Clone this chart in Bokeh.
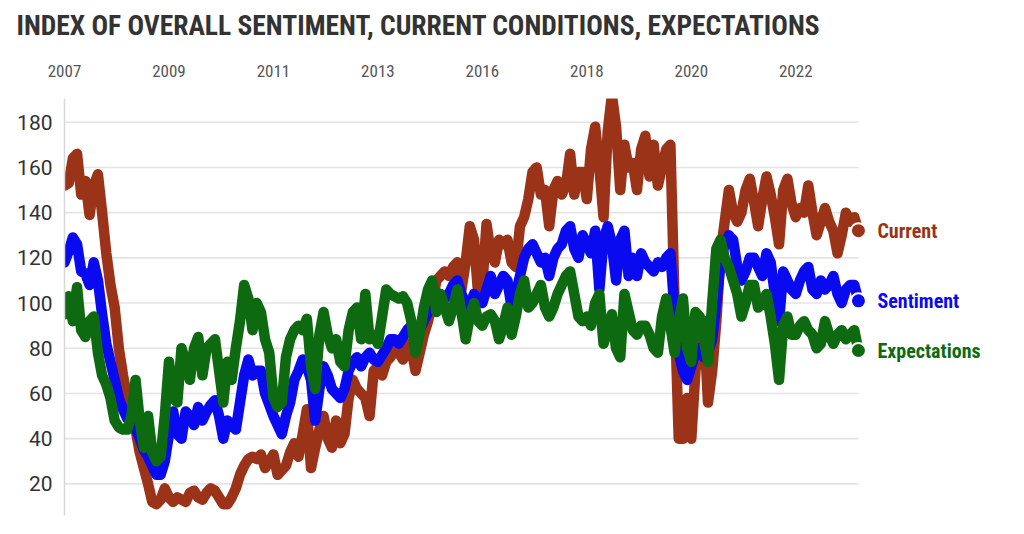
from bokeh.plotting import figure
from bokeh.layouts import column
from bokeh.models import Range1d, FixedTicker, ColumnDataSource
from bokeh.core.properties import value
from bokeh.embed import file_html
from bokeh.resources import INLINE

# ---- data (index of observations; year labels placed at fixed index ticks) ----
year_labels = ["2007", "2009", "2011", "2013", "2016", "2018", "2020", "2022"]
year_ticks = [0, 25, 50, 75, 100, 125, 150, 175]

current = [152, 153, 164, 166, 148, 154, 139, 152, 157, 140, 122, 108, 98, 80, 68, 58, 52, 44, 34, 27,
           20, 12, 11, 13, 18, 14, 12, 14, 13, 12, 16, 17, 14, 13, 16, 18, 17, 14, 11, 11,
           14, 18, 24, 28, 31, 32, 31, 33, 27, 30, 33, 24, 26, 28, 34, 38, 32, 42, 53, 27,
           36, 44, 50, 40, 36, 48, 38, 42, 58, 66, 62, 60, 58, 50, 70, 72, 68, 74, 76, 80,
           78, 75, 82, 80, 70, 78, 86, 92, 100, 110, 112, 114, 112, 116, 118, 106, 118, 134, 128, 104,
           108, 135, 122, 118, 128, 126, 128, 118, 116, 134, 138, 146, 158, 160, 148, 150, 134, 150, 154, 148,
           152, 166, 148, 158, 158, 146, 168, 178, 160, 138, 176, 192, 178, 150, 170, 160, 162, 150, 168, 174,
           156, 170, 152, 160, 168, 170, 100, 40, 40, 58, 40, 70, 88, 92, 56, 70, 92, 122, 136, 150,
           140, 136, 140, 150, 155, 145, 134, 146, 156, 148, 138, 126, 150, 155, 144, 138, 142, 140, 152, 140,
           130, 136, 142, 136, 132, 122, 130, 140, 136, 138, 132]

sentiment = [118, 123, 129, 126, 114, 113, 108, 118, 110, 95, 82, 74, 66, 58, 53, 49, 47, 45, 40, 35,
             32, 28, 24, 24, 30, 42, 52, 42, 40, 52, 50, 46, 54, 48, 52, 55, 57, 50, 40, 48,
             46, 44, 56, 68, 75, 68, 70, 70, 60, 55, 50, 46, 42, 50, 56, 66, 70, 75, 72, 66,
             48, 62, 72, 68, 62, 60, 58, 62, 70, 74, 76, 72, 76, 78, 75, 74, 77, 80, 84, 84,
             82, 85, 88, 90, 86, 88, 92, 96, 100, 104, 104, 102, 104, 108, 110, 104, 100, 98, 104, 101,
             100, 106, 112, 104, 108, 112, 110, 98, 104, 112, 120, 124, 126, 122, 118, 120, 112, 120, 124, 126,
             132, 134, 124, 120, 130, 126, 122, 132, 106, 128, 134, 126, 110, 128, 132, 112, 120, 112, 122, 118,
             116, 114, 118, 116, 120, 122, 96, 78, 70, 66, 72, 78, 80, 76, 78, 84, 100, 118, 126, 130,
             128, 116, 110, 114, 120, 120, 116, 112, 122, 118, 104, 92, 114, 110, 106, 104, 110, 114, 116, 106,
             104, 110, 106, 108, 112, 104, 100, 106, 108, 108, 101]

expectations = [95, 103, 92, 107, 88, 85, 92, 94, 78, 68, 64, 58, 48, 45, 44, 44, 50, 66, 48, 36,
                50, 34, 30, 32, 50, 74, 58, 56, 80, 74, 66, 80, 85, 68, 80, 82, 84, 70, 56, 74,
                66, 80, 92, 108, 102, 88, 100, 96, 84, 78, 58, 54, 56, 76, 84, 88, 90, 88, 93, 72,
                62, 86, 96, 86, 80, 84, 74, 72, 88, 96, 98, 84, 104, 84, 86, 82, 94, 106, 104, 103,
                102, 103, 100, 92, 78, 86, 98, 106, 110, 96, 104, 98, 92, 98, 106, 96, 84, 94, 100, 92,
                90, 94, 95, 92, 84, 90, 98, 86, 94, 104, 110, 98, 100, 104, 108, 98, 94, 98, 104, 108,
                112, 114, 104, 94, 92, 94, 90, 100, 104, 82, 88, 95, 80, 76, 104, 96, 88, 86, 90, 90,
                86, 80, 78, 94, 102, 90, 78, 92, 102, 80, 74, 96, 94, 84, 74, 100, 124, 128, 120, 116,
                110, 104, 94, 100, 108, 108, 98, 100, 104, 94, 82, 66, 90, 94, 86, 86, 90, 92, 88, 86,
                80, 82, 92, 86, 82, 86, 88, 84, 86, 88, 79]

series_names = ["Current", "Sentiment", "Expectations"]
series_colors = ["#9a3318", "#0a0af0", "#0d6a10"]
title_text = "INDEX OF OVERALL SENTIMENT, CURRENT CONDITIONS, EXPECTATIONS"

COND = "Roboto Condensed, Liberation Sans Narrow, Roboto"

W = 1016
TITLE_H = 48

# ---- title strip: a small empty figure that only carries the title ----
t = figure(width=W, height=TITLE_H, output_backend="svg", toolbar_location=None,
           x_range=Range1d(0, 1), y_range=Range1d(0, 1),
           x_axis_type=None, y_axis_type=None,
           min_border_left=64, min_border_right=16, min_border_top=46, min_border_bottom=0)
t.outline_line_color = None
t.xgrid.grid_line_color = None
t.ygrid.grid_line_color = None
t.title.text = title_text
t.title.text_font = COND
t.title.text_font_style = "bold"
t.title.text_font_size = "27.5px"
t.title.text_color = "#333333"
t.title.align = "left"
t.title.offset = -48
t.title.standoff = 9

# ---- main chart ----
x = list(range(len(current)))
last = len(current) - 1

p = figure(width=W, height=526 - TITLE_H, output_backend="svg", toolbar_location=None,
           x_range=Range1d(0, 224), y_range=Range1d(6, 190.5),
           x_axis_location="above",
           min_border_left=64, min_border_right=16, min_border_top=98 - TITLE_H, min_border_bottom=11)
p.outline_line_color = None
p.background_fill_color = "white"
p.border_fill_color = "white"

# grids: horizontal lines only across the data span
p.xgrid.grid_line_color = None
p.ygrid.grid_line_color = None
yticks = [20, 40, 60, 80, 100, 120, 140, 160, 180]
p.segment(x0=[0] * len(yticks), x1=[last] * len(yticks), y0=yticks, y1=yticks,
          line_color="#e4e4e4", line_width=1.6)

# axes
xa = p.xaxis[0]
xa.ticker = FixedTicker(ticks=year_ticks)
xa.major_label_overrides = {tk: l for tk, l in zip(year_ticks, year_labels)}
xa.axis_line_color = None
xa.major_tick_line_color = None
xa.minor_tick_line_color = None
xa.major_label_text_font = COND
xa.major_label_text_font_size = "17px"
xa.major_label_text_color = "#555555"
xa.major_label_standoff = 16

ya = p.yaxis[0]
ya.ticker = FixedTicker(ticks=yticks)
ya.axis_line_color = "#d8d8d8"
ya.axis_line_width = 1.5
ya.major_tick_line_color = None
ya.minor_tick_line_color = None
ya.major_label_text_font = "Roboto"
ya.major_label_text_font_size = "21px"
ya.major_label_text_color = "#333333"
ya.major_label_standoff = 6

# lines
for vals, col in zip([current, sentiment, expectations], series_colors):
    p.line(x, vals, line_color=col, line_width=10.5, line_join="round", line_cap="round")

# end dots and labels
ends = ColumnDataSource(dict(
    x=[last] * 3,
    y=[current[-1], sentiment[-1], expectations[-1]],
    name=series_names,
    color=series_colors,
))
p.scatter("x", "y", source=ends, size=15, fill_color="color", line_color="white", line_width=2)
p.text("x", "y", text="name", source=ends, x_offset=19, text_baseline="middle",
       text_align="left", text_color="color", text_font=value(COND),
       text_font_style="bold", text_font_size="20px")

layout = column(t, p, spacing=0)
open("out.html", "w").write(file_html(layout, INLINE))
